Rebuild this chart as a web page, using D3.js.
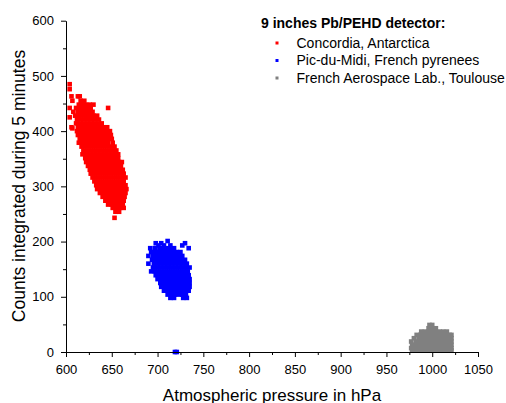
<!DOCTYPE html>
<html>
<head>
<meta charset="utf-8">
<script src="https://cdn.jsdelivr.net/npm/d3@7"></script>
<style>
  html, body { margin: 0; padding: 0; background: #fff; }
  svg { display: block; font-family: "Liberation Sans", Arial, sans-serif; }
</style>
</head>
<body>
<svg id="chart" width="506" height="403"></svg>
<script>
// ---- data: [pressure hPa, counts in 5 min] ----
const concordia = [
  [604,485],[604,476],[606,463],[613,463],[615,463],[607,455],[616,455],[620,455],
  [614,448],[618,448],[622,448],[626,448],[630,448],
  [604,442],[611,442],[615,442],[619,442],[623,442],[627,442],[646,442],
  [608,435],[613,435],[617,435],[621,435],[625,435],[629,435],
  [610,428],[614,428],[618,428],[622,428],[626,428],[630,428],[634,428],[604,425],
  [612,421],[616,421],[620,421],[624,421],[628,421],[632,421],[636,421],
  [611,414],[615,414],[619,414],[623,414],[627,414],[631,414],[635,414],[639,414],
  [606,407],[613,407],[617,407],[621,407],[625,407],[629,407],[633,407],[637,407],[641,407],[645,407],[607,405],
  [612,400],[616,400],[620,400],[624,400],[628,400],[632,400],[636,400],[640,400],[644,400],[648,400],
  [613,393],[617,393],[621,393],[625,393],[629,393],[633,393],[637,393],[641,393],[645,393],[649,393],
  [615,386],[619,386],[623,386],[627,386],[631,386],[635,386],[639,386],[643,386],[647,386],[650,386],
  [614,379],[618,379],[622,379],[626,379],[630,379],[634,379],[638,379],[642,379],[646,379],[651,379],
  [617,372],[621,372],[625,372],[629,372],[633,372],[637,372],[641,372],[645,372],[649,372],[653,372],
  [619,365],[623,365],[627,365],[631,365],[635,365],[639,365],[643,365],[647,365],[651,365],[655,365],
  [618,358],[622,358],[626,358],[630,358],[634,358],[638,358],[642,358],[646,358],[650,358],[654,358],[657,358],
  [621,351],[625,351],[629,351],[633,351],[637,351],[641,351],[645,351],[649,351],[653,351],[657,351],
  [622,344],[626,344],[630,344],[634,344],[638,344],[642,344],[646,344],[650,344],[654,344],[658,344],[661,344],
  [624,337],[628,337],[632,337],[636,337],[640,337],[644,337],[648,337],[652,337],[656,337],[660,337],
  [626,330],[630,330],[634,330],[638,330],[642,330],[646,330],[650,330],[654,330],[658,330],[662,330],
  [627,323],[631,323],[635,323],[639,323],[643,323],[647,323],[651,323],[655,323],[659,323],[663,323],
  [629,316],[633,316],[637,316],[641,316],[645,316],[649,316],[653,316],[657,316],[661,316],[665,316],
  [631,309],[635,309],[639,309],[643,309],[647,309],[651,309],[655,309],[659,309],[663,309],
  [633,302],[637,302],[641,302],[645,302],[649,302],[653,302],[657,302],[661,302],[665,302],
  [634,295],[638,295],[642,295],[646,295],[650,295],[654,295],[658,295],[662,295],[666,295],
  [637,288],[641,288],[645,288],[649,288],[653,288],[657,288],[661,288],[665,288],
  [640,281],[644,281],[648,281],[652,281],[656,281],[660,281],[664,281],
  [643,274],[647,274],[651,274],[655,274],[659,274],[663,274],
  [646,267],[650,267],[654,267],[658,267],[662,267],
  [651,261],[655,261],[659,261],[663,261],[654,254],[658,254],[653,243]
];
const picDuMidi = [
  [711,201],[698,197],[704,197],[730,197],[701,193],[707,193],[714,193],[727,193],
  [692,188],[697,188],[702,188],[706,188],[710,188],[714,188],[718,188],[734,188],
  [693,181],[697,181],[701,181],[705,181],[709,181],[713,181],[717,181],[721,181],[725,181],
  [690,174],[695,174],[699,174],[703,174],[707,174],[711,174],[715,174],[719,174],[723,174],[727,174],
  [694,167],[698,167],[702,167],[706,167],[710,167],[714,167],[718,167],[722,167],[726,167],[730,167],
  [690,160],[696,160],[700,160],[704,160],[708,160],[712,160],[716,160],[720,160],[724,160],[728,160],[732,160],
  [695,153],[699,153],[703,153],[707,153],[711,153],[715,153],[719,153],[723,153],[727,153],[731,153],[735,153],
  [693,146],[697,146],[701,146],[705,146],[709,146],[713,146],[717,146],[721,146],[725,146],[729,146],[733,146],
  [698,139],[702,139],[706,139],[710,139],[714,139],[718,139],[722,139],[726,139],[730,139],[734,139],
  [700,132],[704,132],[708,132],[712,132],[716,132],[720,132],[724,132],[728,132],[732,132],[735,132],
  [703,125],[707,125],[711,125],[715,125],[719,125],[723,125],[727,125],[731,125],[735,125],
  [704,118],[708,118],[712,118],[716,118],[720,118],[724,118],[728,118],[732,118],[735,118],
  [707,111],[711,111],[715,111],[719,111],[723,111],[727,111],[731,111],[734,111],
  [711,104],[715,104],[719,104],[723,104],[727,104],[731,104],
  [714,98],[718,98],[728,98],[732,98],
  [719,0],[721,0]
];
const toulouse = [
  [997,49],[1000,49],[996,43],[1000,43],[1004,43],
  [988,37],[992,37],[996,37],[1000,37],[1004,37],[1008,37],[1012,37],[1016,37],
  [983,31],[987,31],[991,31],[995,31],[999,31],[1003,31],[1007,31],[1011,31],[1015,31],[1019,31],[1021,31],
  [980,25],[985,25],[989,25],[993,25],[997,25],[1001,25],[1005,25],[1009,25],[1013,25],[1017,25],[1021,25],
  [977,19],[982,19],[986,19],[990,19],[994,19],[998,19],[1002,19],[1006,19],[1010,19],[1014,19],[1018,19],[1021,19],
  [978,13],[982,13],[986,13],[990,13],[994,13],[998,13],[1002,13],[1006,13],[1010,13],[1014,13],[1018,13],[1021,13],
  [977,7],[981,7],[985,7],[989,7],[993,7],[997,7],[1001,7],[1005,7],[1009,7],[1013,7],[1017,7],[1021,7],
  [978,3],[982,3],[986,3],[990,3],[994,3],[998,3],[1002,3],[1006,3],[1010,3],[1014,3],[1018,3],[1021,3]
];
const seriesNames = ["Concordia, Antarctica", "Pic-du-Midi, French pyrenees", "French Aerospace Lab., Toulouse"];
const seriesColors = ["#ff0000", "#0000ff", "#808080"];
const legendTitle = "9 inches Pb/PEHD detector:";
const xTicks = [600, 650, 700, 750, 800, 850, 900, 950, 1000, 1050];
const yTicks = [0, 100, 200, 300, 400, 500, 600];
const xLabel = "Atmospheric pressure in hPa";
const yLabel = "Counts integrated during 5 minutes";

// ---- drawing ----
const svg = d3.select("#chart");
const x = d3.scaleLinear().domain([600, 1050]).range([66, 478]);
const y = d3.scaleLinear().domain([0, 600]).range([352, 20.7]);

const series = [concordia, picDuMidi, toulouse];
const ms = 4.6;
series.forEach((data, i) => {
  svg.append("g").selectAll("rect").data(data).join("rect")
    .attr("x", d => x(d[0]) - ms / 2)
    .attr("y", d => y(d[1]) - ms / 2)
    .attr("width", ms).attr("height", ms)
    .attr("fill", seriesColors[i]);
});

// minor ticks
const xMinor = d3.range(625, 1050, 50);
const yMinor = d3.range(50, 600, 100);
svg.append("g").attr("transform", "translate(0,352)")
  .call(d3.axisBottom(x).tickValues(xMinor).tickSize(3).tickFormat(""))
  .call(g => g.select(".domain").remove());
svg.append("g").attr("transform", "translate(66,0)")
  .call(d3.axisLeft(y).tickValues(yMinor).tickSize(3).tickFormat(""))
  .call(g => g.select(".domain").remove());

const xAxis = svg.append("g").attr("transform", "translate(0,352)")
  .call(d3.axisBottom(x).tickValues(xTicks).tickSize(5).tickPadding(8).tickFormat(d3.format("d")).tickSizeOuter(0));
const yAxis = svg.append("g").attr("transform", "translate(66,0)")
  .call(d3.axisLeft(y).tickValues(yTicks).tickSize(5).tickPadding(7).tickFormat(d3.format("d")).tickSizeOuter(0));
[xAxis, yAxis].forEach(a => {
  a.selectAll("text").attr("font-size", 13).attr("fill", "#000")
    .attr("font-family", "'Liberation Sans', Arial, sans-serif");
  a.selectAll("line, path").attr("stroke", "#000");
});

svg.append("text").attr("x", 272).attr("y", 400.5).attr("text-anchor", "middle")
  .attr("font-size", 17).attr("fill", "#000").text(xLabel);
svg.append("text").attr("transform", "translate(25,186) rotate(-90)").attr("text-anchor", "middle")
  .attr("font-size", 17.5).attr("fill", "#000").text(yLabel);

// legend
svg.append("text").attr("x", 261).attr("y", 28).attr("font-size", 14).attr("font-weight", "bold")
  .attr("fill", "#000").text(legendTitle);
seriesNames.forEach((n, i) => {
  const cy = 43 + i * 17.5;
  svg.append("rect").attr("x", 275.5).attr("y", cy - 1.5).attr("width", 3).attr("height", 3)
    .attr("fill", seriesColors[i]);
  svg.append("text").attr("x", 296.5).attr("y", cy + 4.5).attr("font-size", 14)
    .attr("fill", "#000").text(n);
});
</script>
</body>
</html>
